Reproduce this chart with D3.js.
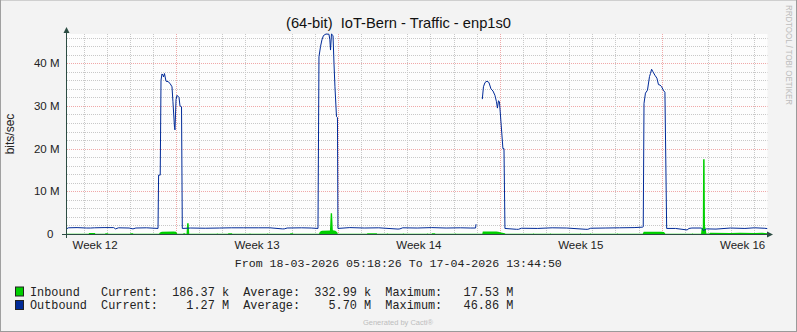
<!DOCTYPE html>
<html><head><meta charset="utf-8">
<script src="https://cdn.jsdelivr.net/npm/d3@7"></script>
<style>body{margin:0;background:#f3f3f3} svg{display:block}</style>
</head><body><svg id="c" width="797" height="332"></svg>
<script>
const startTime = "2026-03-18T05:18:26Z";
const endTime   = "2026-04-17T13:44:50Z";
const titleText = "(64-bit)  IoT-Bern - Traffic - enp1s0";

// Outbound (Mbit/s), hours since start; null = unknown
const outHours = [0,1.5,3,12,22,26,30,40,50,52,55,66,70,73,84,96,96.6,98.3,99.1,100.1,101.2,101.7,102.7,104.3,106.4,108.4,110.5,111.5,113.1,113.6,114.7,115.7,117.8,118.8,120.4,121.2,
  130,145,160,172,185,200,212,225,227,230,245,255,262,263,264.6,266.1,267.7,270.3,273.4,274.3,275,276,277.6,278.6,279.6,281.2,282.2,282.7,
  295,310,325,345,347,350,365,380,395,410,420,425.5,426,427,432.5,433.7,435.3,437.3,439.4,441.5,443.6,445.6,447.2,448.2,449.3,450.3,453.9,455,456,
  468,470,473,490,505,520,540,542,545,560,575,590,598.7,599.5,600.3,601.8,603.9,606,607,608.2,609.6,611.6,613.7,615.3,616.9,618.6,620.3,622,623.8,
  633,645,647,650,660,662,665,675,690,705,715,725,728.4];
const outValues = [1.45,1.25,1.45,1.5,1.4,1.4,1.45,1.5,1.5,1.2,1.45,1.4,1.2,1.4,1.45,1.3,13.8,13.8,36,37.5,37.2,36.8,37.6,35.8,35.7,35.3,34.5,31,25,24.4,31.5,32.5,32,30,29.8,1.3,
  1.4,1.35,1.4,1.45,1.45,1.45,1.45,1.2,1.2,1.4,1.45,1.4,1.3,41.5,43.9,45.5,46.5,46.86,46.8,45.5,43.1,46.86,46.5,40,34.5,27.5,27.3,1.3,
  1.5,1.4,1.45,1.15,1.2,1.45,1.4,1.5,1.4,1.45,1.4,1.4,2.3,null,31.6,34.5,35.5,35.8,35.5,34,33.5,32.5,31,29.5,31.2,31,20,20,1.3,
  1.1,1.1,1.35,1.3,1.45,1.4,1.1,1.1,1.35,1.4,1.45,1.5,1.6,1.7,30.6,33,33.7,36.9,37.6,38.6,38,37.2,36.5,35,34.9,34.5,33.7,33.2,1.3,
  1.3,0.95,1.3,1.4,1.4,0.8,1.2,1.15,1.4,1.3,1.45,1.35,1.27];

// Inbound (Mbit/s)
const inHours = [0,24,24.5,30.5,31,41,41.5,44,44.5,67,67.5,70,70.5,97,98,100,112,114.7,116,122,122.5,124,124.5,125.6,126.2,127.8,128.4,157,157.3,158,168.6,169,172.8,173,191,191.4,192,209,209.4,210,233,233.4,236,236.4,
  263,264,266,274.4,275.2,276.6,277.4,280,282,282.5,312.8,313.2,323,323.4,333.5,334,334.6,350,350.4,351,375,375.4,376,380,380.4,383.4,383.8,404,404.4,405,
  432.5,433,447,449,452,456,456.5,485,485.4,486,502.7,503,503.6,533.9,534.2,535,544.2,544.6,545.2,572.2,572.6,573.2,599,600,618,621,622.5,650,650.4,651,
  659.5,660,661.3,661.6,663.2,663.6,664.4,665,668,669,690,700,715,723,728.4];
const inValues = [0.05,0.05,0.25,0.25,0.05,0.05,0.2,0.2,0.05,0.05,0.2,0.2,0.05,0.05,0.35,0.55,0.6,0.5,0.05,0.05,0.2,0.2,0.05,0.05,2.5,2.5,0.05,0.05,0.2,0.05,0.05,0.2,0.2,0.05,0.05,0.2,0.05,0.05,0.2,0.05,0.05,0.2,0.2,0.05,
  0.05,0.5,0.75,0.8,4.85,4.85,0.9,0.75,0.4,0.05,0.05,0.2,0.2,0.05,0.05,0.2,0.05,0.05,0.2,0.05,0.05,0.2,0.05,0.05,0.2,0.2,0.05,0.05,0.2,0.05,
  0.05,0.6,0.6,0.5,0.35,0.2,0.05,0.05,0.2,0.05,0.05,0.2,0.05,0.05,0.2,0.05,0.05,0.2,0.05,0.05,0.2,0.05,0.05,0.5,0.55,0.45,0.05,0.05,0.2,0.05,
  0.05,1.2,1.5,17.53,17.53,1.8,1.2,0.1,0.1,0.3,0.25,0.3,0.25,0.3,0.19];

const yMax = 46.86;
const yMajorTicks = [0,10,20,30,40];
const yTickLabels = ["0","10 M","20 M","30 M","40 M"];
const yMinorStep = 2;
const weekLabelDates = ["2026-03-19T12:00:00Z","2026-03-26T12:00:00Z","2026-04-02T12:00:00Z","2026-04-09T12:00:00Z","2026-04-16T12:00:00Z"];
const weekLabels = ["Week 12","Week 13","Week 14","Week 15","Week 16"];
const legendColors = ["#00CF00","#002A97"];
const legendRows = [
  "Inbound   Current:  186.37 k  Average:  332.99 k  Maximum:   17.53 M",
  "Outbound  Current:    1.27 M  Average:    5.70 M  Maximum:   46.86 M"];
const rangeText = "From 18-03-2026 05:18:26 To 17-04-2026 13:44:50";

const svg = d3.select("#c");
const t0 = new Date(startTime), t1 = new Date(endTime);
const L = 65.5, R = 767.5, T = 34, B = 234;
const x = d3.scaleUtc().domain([t0, t1]).range([L, R]);
const y = d3.scaleLinear().domain([0, yMax]).range([B, T]);
const toDate = h => new Date(t0.getTime() + h * 3600e3);
const sans = "'Liberation Sans', Arial, sans-serif";
const mono = "'Liberation Mono', 'Courier New', monospace";
const axisCol = "#2c4d43";

svg.append("rect").attr("width",797).attr("height",332).attr("fill","#f3f3f3");
svg.append("line").attr("x1",0).attr("x2",797).attr("y1",0.5).attr("y2",0.5).attr("stroke","#cfcfcf");
svg.append("line").attr("x1",0.5).attr("x2",0.5).attr("y1",0).attr("y2",332).attr("stroke","#a0a0a0");
svg.append("line").attr("x1",0).attr("x2",797).attr("y1",331.5).attr("y2",331.5).attr("stroke","#9a9a9a");
svg.append("line").attr("x1",796.5).attr("x2",796.5).attr("y1",0).attr("y2",332).attr("stroke","#9a9a9a");

svg.append("rect").attr("x",66).attr("y",T).attr("width",R-66).attr("height",B-T).attr("fill","#fdfdfd");

const g = svg.append("g");
const minorY = d3.range(yMinorStep, yMax, yMinorStep).filter(v => v % 10 !== 0);
g.selectAll(".hm").data(minorY).join("line")
  .attr("x1",67).attr("x2",R).attr("y1",d=>Math.round(y(d))+0.5).attr("y2",d=>Math.round(y(d))+0.5)
  .attr("stroke","#c8c8c8").attr("stroke-dasharray","1,1");
g.selectAll(".hM").data(yMajorTicks.filter(v=>v>0)).join("line")
  .attr("x1",67).attr("x2",R).attr("y1",d=>Math.round(y(d))+0.5).attr("y2",d=>Math.round(y(d))+0.5)
  .attr("stroke","#f0a8a8").attr("stroke-dasharray","1,1");
const days = d3.utcDay.range(d3.utcDay.ceil(t0), t1).filter(d => d.getUTCDay() !== 1);
const mondays = d3.utcMonday.range(d3.utcMonday.ceil(t0), t1);
g.selectAll(".vm").data(days).join("line")
  .attr("x1",d=>Math.round(x(d))+0.5).attr("x2",d=>Math.round(x(d))+0.5).attr("y1",T).attr("y2",B)
  .attr("stroke","#c8c8c8").attr("stroke-dasharray","1,1");
g.selectAll(".vM").data(mondays).join("line")
  .attr("x1",d=>Math.round(x(d))+0.5).attr("x2",d=>Math.round(x(d))+0.5).attr("y1",T).attr("y2",B)
  .attr("stroke","#f0a8a8").attr("stroke-dasharray","1,1");

svg.append("clipPath").attr("id","pc").append("rect").attr("x",66).attr("y",T-1).attr("width",R-66).attr("height",B-T+1);
const inData = inHours.map((h,i)=>({t:toDate(h), v:inValues[i]}));
const outData = outHours.map((h,i)=>({t:toDate(h), v:outValues[i]}));
svg.append("path").datum(inData).attr("clip-path","url(#pc)")
  .attr("d", d3.area().x(d=>x(d.t)).y0(B).y1(d=>y(d.v)))
  .attr("fill","#00CF00");
svg.append("path").datum(outData).attr("clip-path","url(#pc)")
  .attr("d", d3.line().defined(d=>d.v!=null).x(d=>x(d.t)).y(d=>y(d.v)))
  .attr("fill","none").attr("stroke","#002A97").attr("stroke-width",1);

svg.append("line").attr("x1",66.5).attr("x2",66.5).attr("y1",238).attr("y2",31).attr("stroke",axisCol);
svg.append("path").attr("d","M63.5,33 L69.5,33 L66.5,27 Z").attr("fill",axisCol);
svg.append("line").attr("x1",62).attr("x2",769).attr("y1",234.5).attr("y2",234.5).attr("stroke",axisCol);
svg.append("path").attr("d","M767,231.5 L767,237.5 L773,234.5 Z").attr("fill",axisCol);

svg.selectAll(".yl").data(yMajorTicks).join("text")
  .attr("x",(d,i)=> i===0 ? 53.5 : 59.5).attr("y",d=>y(d)+4)
  .attr("text-anchor","end").attr("font-family",sans).attr("font-size",11.5).attr("fill","#222")
  .text((d,i)=>yTickLabels[i]);
svg.append("text").attr("transform","translate(14,134) rotate(-90)").attr("text-anchor","middle")
  .attr("font-family",sans).attr("font-size",12).attr("fill","#222").text("bits/sec");
svg.selectAll(".xl").data(weekLabelDates).join("text")
  .attr("x",d=>x(new Date(d))).attr("y",249).attr("text-anchor","middle")
  .attr("font-family",sans).attr("font-size",11.5).attr("fill","#222")
  .text((d,i)=>weekLabels[i]);

svg.append("text").attr("x",398.5).attr("y",28).attr("text-anchor","middle")
  .attr("font-family","'Liberation Sans Narrow','Liberation Sans',Arial,sans-serif").attr("font-size",14.5).attr("fill","#111")
  .attr("textLength",225).attr("lengthAdjust","spacingAndGlyphs").style("white-space","pre").text(titleText);

svg.append("text").attr("x",398.3).attr("y",266.5).attr("text-anchor","middle")
  .attr("font-family",mono).attr("font-size",11.6).attr("fill","#222").style("white-space","pre").text(rangeText);

legendRows.forEach((row,i)=>{
  const cy = 291.5 + i*13.5;
  svg.append("rect").attr("x",15.5).attr("y",cy-4.5).attr("width",8).attr("height",9)
    .attr("fill",legendColors[i]).attr("stroke","#222").attr("stroke-width",1);
  svg.append("text").attr("x",30).attr("y",cy+4).attr("font-family",mono).attr("font-size",11.85)
    .attr("fill","#222").style("white-space","pre").text(row);
});

svg.append("text").attr("x",398).attr("y",325).attr("text-anchor","middle")
  .attr("font-family",sans).attr("font-size",7.5).attr("fill","#bdbdbd").text("Generated by Cacti®");
svg.append("text").attr("transform","translate(786,5) rotate(90)")
  .attr("font-family",sans).attr("font-size",8.5).attr("fill","#bdbdbd")
  .attr("textLength",100).attr("lengthAdjust","spacingAndGlyphs").text("RRDTOOL / TOBI OETIKER");
</script></body></html>
